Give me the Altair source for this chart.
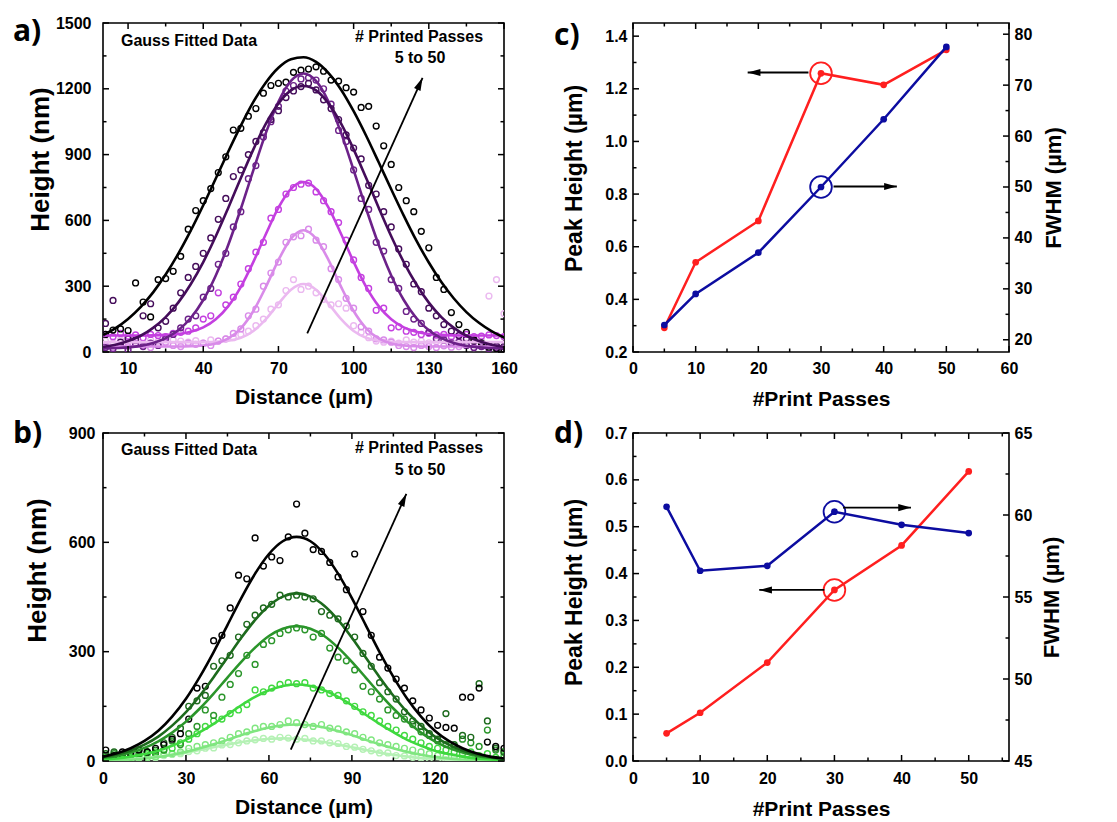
import altair as alt
import pandas as pd

FONT = "Liberation Sans"
LETTER_FONT = "Open Sans"
RED = "#ff1f1f"
BLUE = "#0c0ca0"
ARROW_HEAD = "M0,0L0.5,1.8L-0.5,1.8Z"

# ---------------- panel a (purple, Gauss fits) ----------------
a_series = ["5", "10", "20", "30", "40", "50"]
a_colors = ["#ebb9f0", "#d98be9", "#c43fe0", "#6c2189", "#440c5a", "#000000"]
a_fit_x = list(range(0, 161, 5))
a_fit_5 = [45, 45, 45, 45, 45, 45, 45, 45, 45, 47, 51, 65, 96, 150, 220, 284, 310, 284, 220, 150, 96, 65, 51, 47, 45, 45, 45, 45, 45, 45, 45, 45, 45]
a_fit_10 = [25, 25, 25, 25, 25, 25, 25, 26, 30, 39, 62, 108, 187, 297, 419, 517, 555, 517, 419, 297, 187, 108, 62, 39, 30, 26, 25, 25, 25, 25, 25, 25, 25]
a_fit_20 = [75, 75, 75, 75, 76, 78, 82, 92, 112, 149, 209, 297, 411, 538, 658, 744, 775, 744, 658, 538, 411, 297, 209, 149, 112, 92, 82, 78, 76, 75, 75, 75, 75]
a_fit_30 = [16, 18, 21, 28, 41, 63, 99, 155, 237, 349, 489, 653, 829, 999, 1141, 1236, 1270, 1236, 1141, 999, 829, 653, 489, 349, 237, 155, 99, 63, 41, 28, 21, 18, 16]
a_fit_40 = [23, 33, 50, 74, 110, 159, 225, 309, 410, 528, 658, 793, 924, 1041, 1133, 1193, 1213, 1193, 1133, 1041, 924, 793, 658, 528, 410, 309, 225, 159, 110, 74, 50, 33, 23]
a_fit_50 = [77, 109, 151, 205, 272, 353, 447, 553, 669, 791, 914, 1032, 1140, 1229, 1296, 1335, 1344, 1323, 1272, 1196, 1098, 986, 865, 742, 622, 509, 408, 319, 244, 182, 133, 95, 66]

a_pts_x = list(range(1, 161, 3))
a_pts_5 = [50, 40, 55, 45, 50, 38, 55, 48, 42, 55, 50, 45, 52, 40, 55,
           50, 60, 65, 80, 95, 120, 150, 195, 215, 280, 330, 285,
           300, 270, 240, 215, 220, 200, 120, 90, 65, 50,
           45, 50, 40, 55, 45, 50, 42, 48, 55, 45,
           50, 40, 45, 50, 255, 330, 175]
a_pts_10 = [30, 20, 35, 25, 40, 30, 20, 35, 45, 30, 25, 40, 35,
            40, 30, 50, 60, 85, 105, 165, 195, 300, 360, 410, 500, 525, 530,
            560, 510, 480, 380, 330, 245, 200, 115, 95, 60,
            55, 45, 30, 25, 20, 30, 25, 20, 28, 22,
            25, 30, 20, 25, 28, 22, 25]
a_pts_20 = [80, 70, 85, 72, 78, 65, 80, 75, 70,
            85, 90, 95, 110, 150, 165, 270, 215, 250, 310, 380, 455, 500, 610, 650, 720, 750, 765,
            770, 730, 690, 640, 590, 510, 420, 340, 290, 190,
            200, 110, 115, 95, 90, 80, 85, 78, 80, 70,
            75, 80, 70, 72, 78, 75, 70]
a_pts_30 = [20, 15, 30, 10, 35, 25, 40, 30, 60, 80,
            110, 150, 165, 250, 290, 400, 450, 570, 640, 790,
            850, 980, 1050, 1120, 1190, 1215, 1245,
            1250, 1240, 1200, 1130, 1010, 960, 830, 700, 650, 500,
            460, 330, 290, 185, 150, 130, 90, 60, 55, 40,
            45, 30, 20, 25, 15, 18, 12]
a_pts_40 = [130, 235, 45, 60, 55, 165, 220, 110, 140, 200,
            270, 340, 390, 450, 520, 605, 700, 800, 830, 900,
            960, 1000, 1060, 1100, 1160, 1190, 1210,
            1225, 1195, 1150, 1110, 1060, 990, 930, 880, 760, 720,
            640, 570, 470, 400, 310, 275, 200, 165, 125, 95,
            75, 60, 50, 40, 33, 28, 25]
a_pts_50 = [80, 100, 105, 98, 315, 228, 160, 330, 335, 368,
            436, 560, 645, 690, 745, 818, 890, 1012, 1020, 1075,
            1110, 1180, 1215, 1225, 1230, 1275, 1285,
            1290, 1300, 1280, 1240, 1235, 1205, 1185, 1115, 1120, 1030,
            940, 855, 750, 690, 640, 550, 475, 340, 285, 180,
            125, 90, 55, 40, 22, 15, 10]

# ---------------- panel b (green, Gauss fits) ----------------
b_series = ["5", "10", "20", "30", "40", "50"]
b_colors = ["#b5f1b5", "#80e680", "#3fd93f", "#2a952a", "#1d6a1d", "#000000"]
b_fit_x = list(range(0, 146, 5))
b_fit_5 = [2, 3, 6, 8, 12, 17, 23, 30, 38, 45, 52, 57, 61, 62, 61, 57, 52, 45, 38, 30, 23, 17, 12, 8, 6, 3, 2, 1, 1, 1]
b_fit_10 = [1, 3, 4, 7, 11, 17, 25, 35, 46, 58, 71, 82, 92, 98, 100, 98, 92, 82, 71, 58, 46, 35, 25, 17, 11, 7, 4, 3, 1, 1]
b_fit_20 = [4, 7, 12, 19, 28, 42, 58, 79, 102, 127, 153, 176, 194, 206, 210, 206, 194, 176, 153, 127, 102, 79, 58, 42, 28, 19, 12, 7, 4, 2]
b_fit_30 = [9, 14, 23, 36, 54, 78, 108, 144, 185, 229, 272, 311, 343, 363, 370, 363, 343, 311, 272, 229, 185, 144, 108, 78, 54, 36, 23, 14, 9, 5]
b_fit_40 = [11, 18, 29, 45, 67, 97, 134, 179, 230, 284, 338, 387, 426, 451, 460, 451, 426, 387, 338, 284, 230, 179, 134, 97, 67, 45, 29, 18, 11, 6]
b_fit_50 = [12, 21, 35, 55, 83, 122, 171, 231, 299, 373, 447, 514, 568, 603, 615, 603, 568, 514, 447, 373, 299, 231, 171, 122, 83, 55, 35, 21, 12, 7]

b_pts_x = list(range(1, 146, 3))
b_pts_5 = [5, 2, 6, 4, 8, 10, 9, 15, 18, 20,
           26, 28, 35, 36, 44, 45, 50, 55, 58, 62,
           60, 65, 63, 60, 62, 55, 55, 50, 48, 40,
           38, 32, 28, 22, 22, 15, 14, 10, 8, 6,
           5, 4, 3, 2, 2, 1, 1, 1, 0]
b_pts_10 = [5, 8, 3, 6, 10, 8, 12, 18, 20, 25,
            35, 40, 45, 50, 55, 65, 75, 80, 90, 95,
            95, 100, 110, 105, 100, 95, 100, 90, 88, 80,
            75, 65, 58, 50, 45, 40, 35, 30, 25, 20,
            15, 12, 10, 8, 6, 5, 4, 3, 2]
b_pts_20 = [10, 15, 5, 10, 15, 20, 25, 30, 35, 50,
            60, 75, 95, 110, 115, 130, 140, 155, 195, 190,
            200, 210, 215, 212, 215, 200, 195, 185, 180, 165,
            150, 135, 125, 110, 95, 85, 70, 60, 50, 40,
            35, 30, 25, 20, 25, 15, 20, 10, 15]
b_pts_30 = [15, 20, 10, 15, 20, 25, 20, 30, 55, 45,
            75, 95, 140, 125, 175, 210, 240, 290, 265, 320,
            330, 350, 360, 365, 360, 340, 350, 310, 285, 275,
            250, 205, 190, 170, 140, 125, 115, 100, 80, 70,
            55, 45, 40, 60, 50, 40, 85, 30, 25]
b_pts_40 = [20, 25, 15, 20, 30, 25, 30, 50, 65, 90,
            150, 165, 180, 260, 275, 290, 340, 375, 400, 420,
            430, 455, 450, 455, 450, 445, 410, 400, 390, 370,
            340, 295, 260, 215, 190, 170, 135, 110, 95, 75,
            60, 130, 45, 70, 65, 212, 110, 35, 25]
b_pts_50 = [30, 15, 25, 20, 30, 25, 35, 45, 60, 75,
            115, 200, 205, 330, 345, 420, 510, 500, 612, 535,
            560, 550, 615, 705, 625, 580, 575, 545, 505, 470,
            568, 410, 345, 285, 255, 225, 200, 165, 140, 118,
            98, 92, 90, 175, 175, 200, 52, 40, 35]

# ---------------- panels c, d ----------------
passes = [5, 10, 20, 30, 40, 50]
c_peak = [0.292, 0.541, 0.698, 1.259, 1.215, 1.348]
c_fwhm = [22.9, 29.0, 37.1, 50.0, 63.3, 77.5]
d_peak = [0.059, 0.103, 0.210, 0.365, 0.460, 0.618]
d_fwhm = [60.5, 56.6, 56.9, 60.2, 59.4, 58.9]

# annotations (data coordinates)
a_arrow_x = [81.5, 127.5]
a_arrow_y = [85, 1250]
b_arrow_x = [67.9, 109.7]
b_arrow_y = [31, 733]
c_red_arrow_x = [28.0, 18.3]
c_red_arrow_y = [1.262, 1.262]
c_blue_arrow_x = [32.0, 42.1]
c_blue_arrow_y = [50.1, 50.1]
d_red_arrow_x = [28.5, 18.8]
d_red_arrow_y = [0.365, 0.365]
d_blue_arrow_x = [31.3, 41.4]
d_blue_arrow_y = [60.45, 60.45]

# tick values
a_x_major = [10, 40, 70, 100, 130, 160]
a_x_minor = [25, 55, 85, 115, 145]
a_y_major = [0, 300, 600, 900, 1200, 1500]
a_y_minor = [150, 450, 750, 1050, 1350]
b_x_major = [0, 30, 60, 90, 120]
b_x_minor = [15, 45, 75, 105, 135]
b_y_major = [0, 300, 600, 900]
b_y_minor = [150, 450, 750]
c_x_major = [0, 10, 20, 30, 40, 50, 60]
c_x_minor = [5, 15, 25, 35, 45, 55]
c_l_major = [0.2, 0.4, 0.6, 0.8, 1.0, 1.2, 1.4]
c_l_minor = [0.3, 0.5, 0.7, 0.9, 1.1, 1.3]
c_r_major = [20, 30, 40, 50, 60, 70, 80]
c_r_minor = [25, 35, 45, 55, 65, 75]
d_x_major = [0, 10, 20, 30, 40, 50]
d_x_minor = [5, 15, 25, 35, 45, 55]
d_l_major = [0.0, 0.1, 0.2, 0.3, 0.4, 0.5, 0.6, 0.7]
d_l_minor = [0.05, 0.15, 0.25, 0.35, 0.45, 0.55, 0.65]
d_r_major = [45, 50, 55, 60, 65]
d_r_minor = [47.5, 52.5, 57.5, 62.5]


def long_table(xs, names, columns, key):
    rows = []
    for name, ys in zip(names, columns):
        assert len(ys) == len(xs), (name, len(ys), len(xs))
        rows += [{"x": x, "y": y, key: name} for x, y in zip(xs, ys)]
    return pd.DataFrame(rows)


def lin(domain):
    return alt.Scale(domain=domain, nice=False, zero=False)


def tick_rules(values, channel, domain, pos, length):
    df = pd.DataFrame({"v": values})
    if channel == "x":
        enc = dict(x=alt.X("v:Q", scale=lin(domain), axis=None),
                   y=alt.value(pos), y2=alt.value(pos + length))
    else:
        enc = dict(y=alt.Y("v:Q", scale=lin(domain), axis=None),
                   x=alt.value(pos), x2=alt.value(pos + length))
    return alt.Chart(df).mark_rule(color="black", strokeWidth=1.5).encode(**enc)


def frame_ticks(W, H, xdom, xmaj, xmin, ldom, lmaj, lmin, rdom, rmaj, rmin):
    MAJ, MIN = 6, 3.5
    return [
        tick_rules(xmaj, "x", xdom, H, -MAJ), tick_rules(xmin, "x", xdom, H, -MIN),
        tick_rules(xmaj, "x", xdom, 0, MAJ), tick_rules(xmin, "x", xdom, 0, MIN),
        tick_rules(lmaj, "y", ldom, 0, MAJ), tick_rules(lmin, "y", ldom, 0, MIN),
        tick_rules(rmaj, "y", rdom, W, -MAJ), tick_rules(rmin, "y", rdom, W, -MIN),
    ]


def label(text, x, y, size=16, align="left", font=FONT):
    return alt.Chart(pd.DataFrame({"t": [text]})).mark_text(
        font=font, fontSize=size, fontWeight="bold", align=align,
        baseline="middle", color="black"
    ).encode(text="t:N", x=alt.value(x), y=alt.value(y))


def arrow(xs, ys, xdom, ydom, angle):
    df = pd.DataFrame({"ax": xs, "ay": ys})
    enc = dict(x=alt.X("ax:Q", scale=lin(xdom), axis=None),
               y=alt.Y("ay:Q", scale=lin(ydom), axis=None))
    line = alt.Chart(df).mark_line(color="black", strokeWidth=1.8).encode(**enc)
    head = alt.Chart(df.iloc[[-1]]).mark_point(
        shape=ARROW_HEAD, filled=True, color="black", opacity=1, size=200,
        angle=angle, strokeWidth=0
    ).encode(**enc)
    return [line, head]


def gauss_panel(W, H, xdom, ydom, fit_df, pts_df, key, series, colors,
                xmaj, xmin, ymaj, ymin, ax, ay, letter, letter_y,
                xlp, xtp, ylp, ytp, yty, gy, py, sy):
    col = alt.Color(f"{key}:N", scale=alt.Scale(domain=series, range=colors), legend=None)
    pts = alt.Chart(pts_df).mark_point(
        shape="circle", filled=False, size=34, strokeWidth=1.4, opacity=1, clip=True
    ).encode(
        x=alt.X("x:Q", scale=lin(xdom), axis=alt.Axis(
            values=xmaj, format="d", title="Distance (µm)", labelPadding=xlp,
            titlePadding=xtp, titleFontSize=21)),
        y=alt.Y("y:Q", scale=lin(ydom), axis=alt.Axis(
            values=ymaj, format="d", title="Height (nm)", labelPadding=ylp,
            titlePadding=ytp, titleFontSize=26, titleY=yty)),
        color=col,
    )
    fits = alt.Chart(fit_df).mark_line(
        strokeWidth=2.6, interpolate="monotone", clip=True
    ).encode(
        x=alt.X("x:Q", scale=lin(xdom), axis=None),
        y=alt.Y("y:Q", scale=lin(ydom), axis=None),
        color=col,
    )
    layers = [pts, fits]
    layers += arrow(ax, ay, xdom, ydom, 24.4)
    layers += [
        label("Gauss Fitted Data", 18, gy),
        label("# Printed Passes", 316, py, align="center"),
        label("5 to 50", 317, sy, align="center"),
        label(letter, -90, letter_y, size=30, font=LETTER_FONT),
    ]
    layers += frame_ticks(W, H, xdom, xmaj, xmin, ydom, ymaj, ymin, ydom, ymaj, ymin)
    return alt.layer(*layers).resolve_axis(x="independent", y="independent").properties(width=W, height=H)


def dual_panel(W, H, xdom, ldom, rdom, peak, fwhm, xmaj, xmin, lmaj, lmin,
               rmaj, rmin, red_ax, red_ay, blue_ax, blue_ay, red_dir, blue_dir,
               letter, letter_y, xlp, xtp, ltp, lty, rtp):
    df = pd.DataFrame({"p": passes, "peak": peak, "fwhm": fwhm})
    X0 = alt.X("p:Q", scale=lin(xdom), axis=None)
    red_line = alt.Chart(df).mark_line(color=RED, strokeWidth=2.5).encode(
        x=alt.X("p:Q", scale=lin(xdom), axis=alt.Axis(
            values=xmaj, format="d", title="#Print Passes", labelPadding=xlp,
            titlePadding=xtp, titleFontSize=21)),
        y=alt.Y("peak:Q", scale=lin(ldom), axis=alt.Axis(
            orient="left", values=lmaj, format=".1f", title="Peak Height (µm)",
            labelPadding=6, titlePadding=ltp, titleFontSize=23, titleY=lty)),
    )
    red_pts = alt.Chart(df).mark_circle(color=RED, size=45, opacity=1).encode(
        x=X0, y=alt.Y("peak:Q", scale=lin(ldom), axis=None))
    blue_line = alt.Chart(df).mark_line(color=BLUE, strokeWidth=2.5).encode(
        x=X0,
        y=alt.Y("fwhm:Q", scale=lin(rdom), axis=alt.Axis(
            orient="right", values=rmaj, format="d", title="FWHM (µm)",
            labelPadding=5, titlePadding=rtp, titleFontSize=22,
            titleAngle=270, titleBaseline="top")),
    )
    blue_pts = alt.Chart(df).mark_circle(color=BLUE, size=45, opacity=1).encode(
        x=X0, y=alt.Y("fwhm:Q", scale=lin(rdom), axis=None))
    at30 = df[df["p"] == 30]
    red_ring = alt.Chart(at30).mark_point(
        shape="circle", filled=False, size=470, color=RED, strokeWidth=1.8, opacity=1
    ).encode(x=X0, y=alt.Y("peak:Q", scale=lin(ldom), axis=None))
    blue_ring = alt.Chart(at30).mark_point(
        shape="circle", filled=False, size=470, color=BLUE, strokeWidth=1.8, opacity=1
    ).encode(x=X0, y=alt.Y("fwhm:Q", scale=lin(rdom), axis=None))
    layers = [red_line, red_pts, blue_line, blue_pts, red_ring, blue_ring]
    layers += arrow(red_ax, red_ay, xdom, ldom, red_dir)
    layers += arrow(blue_ax, blue_ay, xdom, rdom, blue_dir)
    layers += [label(letter, -79, letter_y, size=30, font=LETTER_FONT)]
    layers += frame_ticks(W, H, xdom, xmaj, xmin, ldom, lmaj, lmin, rdom, rmaj, rmin)
    return (alt.layer(*layers)
            .resolve_scale(y="independent")
            .resolve_axis(x="independent", y="independent")
            .properties(width=W, height=H))


a_fit_df = long_table(a_fit_x, a_series, [a_fit_5, a_fit_10, a_fit_20, a_fit_30, a_fit_40, a_fit_50], "sa")
a_pts_df = long_table(a_pts_x, a_series, [a_pts_5, a_pts_10, a_pts_20, a_pts_30, a_pts_40, a_pts_50], "sa")
b_fit_df = long_table(b_fit_x, b_series, [b_fit_5, b_fit_10, b_fit_20, b_fit_30, b_fit_40, b_fit_50], "sb")
b_pts_df = long_table(b_pts_x, b_series, [b_pts_5, b_pts_10, b_pts_20, b_pts_30, b_pts_40, b_pts_50], "sb")

panel_a = gauss_panel(401, 329, [0, 160], [0, 1500], a_fit_df, a_pts_df, "sa", a_series, a_colors,
                      a_x_major, a_x_minor, a_y_major, a_y_minor, a_arrow_x, a_arrow_y,
                      "a)", 9, 8, 10, 12, 2, 136, 18, 14, 35)
panel_b = gauss_panel(401, 328, [0, 145], [0, 900], b_fit_df, b_pts_df, "sb", b_series, b_colors,
                      b_x_major, b_x_minor, b_y_major, b_y_minor, b_arrow_x, b_arrow_y,
                      "b)", 1, 9, 10, 8, 18, 137, 17, 15, 37)
panel_c = dual_panel(376, 329, [0, 60], [0.2, 1.45], [17.6, 82.2], c_peak, c_fwhm,
                     c_x_major, c_x_minor, c_l_major, c_l_minor, c_r_major, c_r_minor,
                     c_red_arrow_x, c_red_arrow_y, c_blue_arrow_x, c_blue_arrow_y, 270, 90,
                     "c)", 13, 8, 12, 18, 155, 12)
panel_d = dual_panel(376, 328, [0, 56], [0.0, 0.7], [45, 65], d_peak, d_fwhm,
                     d_x_major, d_x_minor, d_l_major, d_l_minor, d_r_major, d_r_minor,
                     d_red_arrow_x, d_red_arrow_y, d_blue_arrow_x, d_blue_arrow_y, 270, 90,
                     "d)", 1, 9, 12, 18, 159, 10)

chart = alt.concat(
    panel_a, panel_c, panel_b, panel_d,
    columns=2, spacing={"row": 81, "column": 129}, bounds="flush",
).resolve_scale(color="independent").properties(
    padding={"left": 12, "top": 14, "right": 5, "bottom": 5},
    background="white",
).configure_view(
    stroke="black", strokeWidth=1.6
).configure_axis(
    labelFont=FONT, labelFontSize=16, labelFontWeight="bold", labelColor="black",
    titleFont=FONT, titleFontWeight="bold", titleColor="black",
    ticks=False, domain=False, grid=False, labelFlush=False, labelOverlap=False,
)

chart.save("out.html", embed_options={"renderer": "svg", "actions": False})
